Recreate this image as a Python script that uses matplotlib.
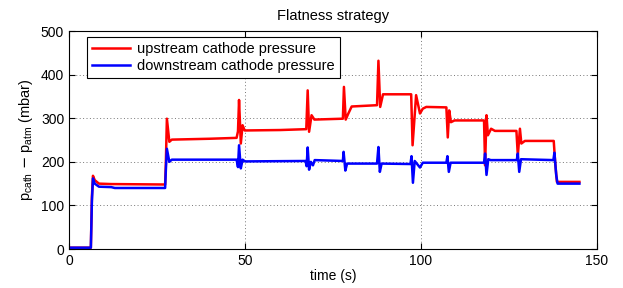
import matplotlib
matplotlib.use("Agg")
import matplotlib.pyplot as plt

plt.rcParams['font.family'] = ['Liberation Sans', 'DejaVu Sans']

# upstream cathode pressure (red)
t_up = [0, 6.2, 6.5, 6.8, 7.3, 8.5, 12, 27.3, 27.5, 27.8, 28.5, 29.2, 40, 47.6, 48.0,
        48.3, 48.8, 49.3, 49.9, 60, 67.4, 67.8, 68.2, 68.9, 69.7, 77.8, 78.1, 78.6,
        79.3, 80.3, 87.5, 87.9, 88.4, 89.2, 97.2, 97.6, 98.6, 99.7, 100.5, 101.5,
        107.2, 107.6, 108.0, 108.5, 109.5, 117.9, 118.2, 118.6, 119.0, 119.9, 121,
        127.1, 127.5, 128.1, 128.5, 129.5, 137.7, 138.1, 138.6, 145]
p_up = [3, 3, 120, 168, 158, 150, 149, 148, 195, 299, 246, 251, 253, 255, 270,
        342, 242, 284, 272, 273, 275, 364, 269, 307, 297, 299, 372, 297,
        310, 327, 330, 432, 326, 355, 355, 238, 353, 311, 322, 326,
        325, 256, 318, 291, 295, 295, 192, 307, 261, 276, 271,
        271, 215, 276, 242, 248, 248, 200, 154, 154]

# downstream cathode pressure (blue)
t_down = [0, 6.2, 6.5, 6.8, 7.3, 8.5, 12, 13, 27.3, 27.5, 27.8, 28.5, 29.2, 47.6, 48.0,
          48.3, 48.8, 49.3, 50, 67.2, 67.5, 67.8, 68.2, 68.7, 69.3, 69.8, 77.8, 78.0,
          78.5, 79.0, 87.5, 87.9, 88.3, 88.8, 97.0, 97.3, 97.7, 98.2, 99.7, 100.5,
          107.2, 107.5, 107.9, 108.4, 117.9, 118.2, 118.6, 119.1, 119.8, 127.2, 127.5,
          127.9, 128.4, 137.6, 137.9, 138.4, 138.8, 145]
p_down = [3, 3, 110, 162, 150, 143, 142, 140, 140, 180, 230, 200, 205, 205, 188,
          238, 185, 205, 201, 202, 190, 233, 182, 200, 192, 204, 202, 223,
          180, 196, 196, 234, 177, 196, 195, 213, 152, 202, 187, 198,
          198, 213, 177, 198, 198, 219, 170, 206, 204, 204, 219,
          177, 206, 204, 221, 170, 150, 150]

fig = plt.figure(figsize=(6.23, 2.88), dpi=100)
ax = fig.add_axes([0.1108, 0.1354, 0.8475, 0.7566])

ax.plot(t_up, p_up, color='#ff0000', lw=1.8, label='upstream cathode pressure')
ax.plot(t_down, p_down, color='#0000ff', lw=1.8, label='downstream cathode pressure')

ax.set_xlim(0, 150)
ax.set_ylim(0, 500)
ax.set_xticks([0, 50, 100, 150])
ax.set_yticks([0, 100, 200, 300, 400, 500])
ax.grid(True, linestyle=(0, (1, 2.5)), color='#777777', lw=0.7)
ax.tick_params(direction='in', top=True, right=True, labelsize=10, length=4)
for s in ax.spines.values():
    s.set_linewidth(0.8)

ax.set_title('Flatness strategy', fontsize=10.5, pad=8)
ax.set_xlabel('time (s)', fontsize=10, labelpad=1)
ax.set_ylabel('p$_{\\mathregular{cath}}$ $-$ p$_{\\mathregular{atm}}$ (mbar)', fontsize=10.5)

leg = ax.legend(loc='upper left', bbox_to_anchor=(0.034, 0.974), borderaxespad=0,
                fontsize=10.5, fancybox=False, framealpha=1, edgecolor='black',
                handlelength=2.6, handletextpad=0.5, borderpad=0.35, labelspacing=0.2)
leg.get_frame().set_linewidth(0.8)

fig.savefig('out.png', dpi=100)
